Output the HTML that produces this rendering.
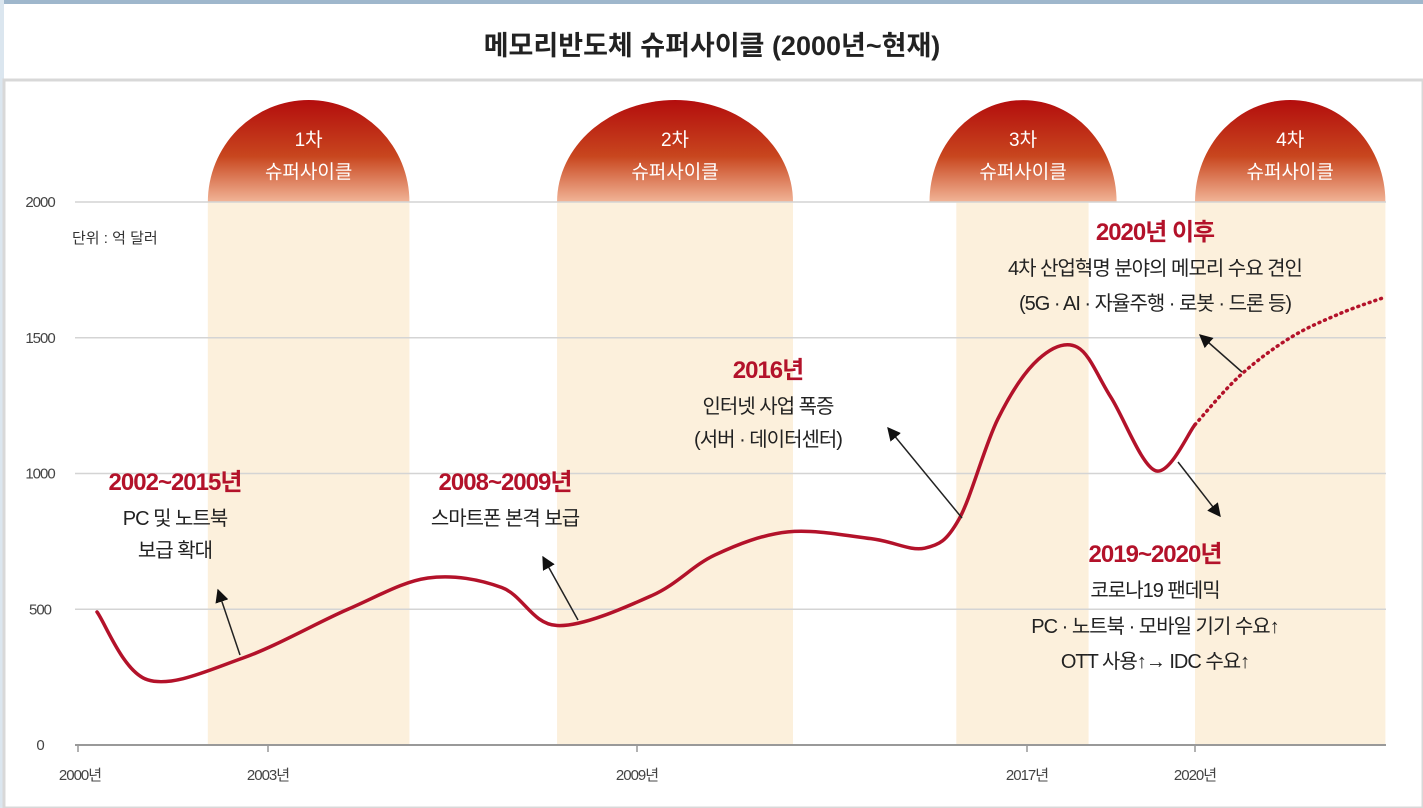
<!DOCTYPE html>
<html><head><meta charset="utf-8"><style>
body{margin:0;background:#fff;width:1423px;height:808px;overflow:hidden;font-family:"Liberation Sans","Noto Sans CJK KR",sans-serif}
svg{display:block}
text{font-family:"Liberation Sans","Noto Sans CJK KR",sans-serif}
</style></head><body>
<svg id="chart" width="1423" height="808">
<defs>
<linearGradient id="dome" x1="0" y1="0" x2="0" y2="1"><stop offset="0" stop-color="#b30d0d"/><stop offset="0.55" stop-color="#c8461e"/><stop offset="1" stop-color="#f1b497"/></linearGradient>
<marker id="ah" viewBox="0 0 10 10" refX="9" refY="5" markerWidth="9" markerHeight="9" orient="auto"><path d="M0,0L10,5L0,10z" fill="#111"/></marker>
</defs>
<rect x="0" y="0" width="1423" height="4" fill="#9fb7cc"/>
<rect x="0" y="0" width="4" height="808" fill="#dbe6ef"/>
<text x="712" y="55" text-anchor="middle" font-size="27" font-weight="bold" fill="#222">메모리반도체 슈퍼사이클 (2000년~현재)</text>
<rect x="4" y="80" width="1419" height="728" fill="#fff" stroke="#d8d8d8" stroke-width="3"/>
<g id="bands"></g><g id="grid"></g><g id="xaxis"></g><g id="series"></g><g id="notes"></g>
<text x="72" y="243" font-size="15" fill="#333">단위 : 억 달러</text>
</svg>
<script>
const yTicks=[0,500,1000,1500,2000];
const xTickYears=[2000,2003,2009,2017,2020];
const xTickLabels=["2000년","2003년","2009년","2017년","2020년"];
const xTickPx=[78,268,637,1027,1195];
const bandStart=[2002.05,2007.7,2015.55,2020];
const bandEnd=[2005.3,2012.2,2018.1,2023.4];
const domeStart=[2002.05,2007.7,2015.0,2020];
const domeEnd=[2005.3,2012.2,2018.6,2023.4];
const bandLabels=["1차","2차","3차","4차"];
const solidYears=[2000.3,2001.1,2002.6,2004.3,2005.6,2006.8,2007.7,2009.3,2010.6,2012.1,2013.8,2014.9,2015.6,2016.4,2017.2,2017.9,2018.5,2019.3,2020.0];
const solidValues=[490,240,320,500,615,580,440,550,700,785,760,725,830,1200,1420,1465,1280,1010,1180];
const dottedYears=[2020.0,2020.8,2021.7,2022.6,2023.4];
const dottedValues=[1180,1360,1500,1590,1650];
const S="http://www.w3.org/2000/svg";
const svg=document.getElementById('chart');
const y0=745,y1=202;
function ys(v){return y0-(v/2000)*(y0-y1);}
function xs(yr){
  for(let i=0;i<xTickYears.length-1;i++){
    if(yr<=xTickYears[i+1]||i==xTickYears.length-2){const a=xTickYears[i],b=xTickYears[i+1];return xTickPx[i]+(yr-a)/(b-a)*(xTickPx[i+1]-xTickPx[i]);}
  }
}
function mk(tag,attrs,parent){const e=document.createElementNS(S,tag);for(const k in attrs)e.setAttribute(k,attrs[k]);(parent||svg).appendChild(e);return e;}
const bands=document.getElementById('bands');
bandStart.forEach((s,i)=>{
  const xa=xs(s),xb=Math.min(xs(bandEnd[i]),1386),w=xb-xa;
  const da=xs(domeStart[i]),db=Math.min(xs(domeEnd[i]),1386),cx=(da+db)/2,rx=(db-da)/2;
  const r=mk('rect',{x:xa,y:ys(2000),width:w,height:y0-ys(2000),fill:'#fcf0dc'},bands);
  
  
  const d=mk('path',{d:`M${da},${ys(2000)} A${rx},102 0 0 1 ${db},${ys(2000)} Z`,fill:'url(#dome)'},bands);
  
  
  const t1=mk('text',{x:cx,y:146,'text-anchor':'middle','font-size':19,fill:'#fff'},bands);t1.textContent=bandLabels[i];
  
  
  const t2=mk('text',{x:cx,y:178,'text-anchor':'middle','font-size':19,fill:'#fff'},bands);t2.textContent='슈퍼사이클';
  
  
});
const grid=document.getElementById('grid');
yTicks.forEach(v=>{
  const l=mk('line',{x1:75,x2:1386,y1:ys(v),y2:ys(v),stroke:v==0?'#999':'#d4d4d4','stroke-width':v==0?2:1.5},grid);
  
  
  const t=mk('text',{x:40,y:ys(v)+5,'text-anchor':'middle','font-size':15,fill:'#444','letter-spacing':'-1'},grid);t.textContent=v;
  
  
});
const xa=document.getElementById('xaxis');
xTickYears.forEach((yr,i)=>{
  const l=mk('line',{x1:xs(yr),x2:xs(yr),y1:y0,y2:y0+7,stroke:'#999','stroke-width':1.5},xa);
  
  
  const t=mk('text',{x:xs(yr)+(i==0?2:0),y:780,'text-anchor':'middle','font-size':15,fill:'#444','letter-spacing':'-1'},xa);t.textContent=xTickLabels[i];
  
  
});
function smooth(pts){let d=`M${pts[0][0]},${pts[0][1]}`;for(let i=0;i<pts.length-1;i++){const p0=pts[Math.max(0,i-1)],p1=pts[i],p2=pts[i+1],p3=pts[Math.min(pts.length-1,i+2)];const c1=[p1[0]+(p2[0]-p0[0])/6,p1[1]+(p2[1]-p0[1])/6],c2=[p2[0]-(p3[0]-p1[0])/6,p2[1]-(p3[1]-p1[1])/6];d+=` C${c1[0]},${c1[1]} ${c2[0]},${c2[1]} ${p2[0]},${p2[1]}`;}return d;}
const ser=document.getElementById('series');
const sp=mk('path',{d:smooth(solidYears.map((y,i)=>[xs(y),ys(solidValues[i])])),fill:'none',stroke:'#b3122a','stroke-width':3.5,'stroke-linecap':'round'},ser);


const dp=mk('path',{d:smooth(dottedYears.map((y,i)=>[xs(y),ys(dottedValues[i])])),fill:'none',stroke:'#b3122a','stroke-width':3.5,'stroke-dasharray':'1 5','stroke-linecap':'round'},ser);


const notes=document.getElementById('notes');
const arrows=[[240,655,218,590],[578,620,543,557],[962,518,888,428],[1242,372,1200,335],[1178,462,1220,516]];
arrows.forEach(a=>{const l=mk('line',{x1:a[0],y1:a[1],x2:a[2],y2:a[3],stroke:'#222','stroke-width':1.5,'marker-end':'url(#ah)'},notes);
  
  });
const txt=[[175,490,'2002~2015년',1],[175,525,'PC 및 노트북',0],[175,557,'보급 확대',0],
[505,490,'2008~2009년',1],[505,525,'스마트폰 본격 보급',0],
[768,378,'2016년',1],[768,413,'인터넷 사업 폭증',0],[768,446,'(서버 · 데이터센터)',0],
[1155,240,'2020년 이후',1],[1155,275,'4차 산업혁명 분야의 메모리 수요 견인',0],[1155,310,'(5G · AI · 자율주행 · 로봇 · 드론 등)',0],
[1155,562,'2019~2020년',1],[1155,597,'코로나19 팬데믹',0],[1155,633,'PC · 노트북 · 모바일 기기 수요↑',0],[1155,668,'OTT 사용↑→ IDC 수요↑',0]];
txt.forEach(t=>{const e=mk('text',{x:t[0],y:t[1],'text-anchor':'middle','font-size':t[3]?24:20,'font-weight':t[3]?'bold':'normal',fill:t[3]?'#b3122a':'#222','letter-spacing':'-1'},notes);e.textContent=t[2];
  
  });
</script>
</body></html>
